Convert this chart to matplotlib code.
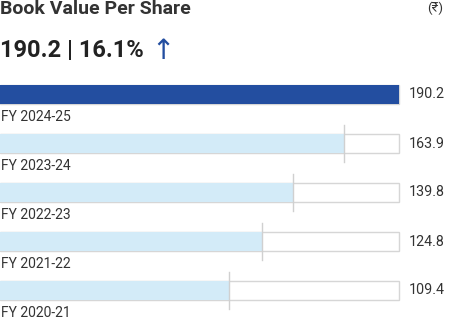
import matplotlib.pyplot as plt

# data
years = ["FY 2024-25", "FY 2023-24", "FY 2022-23", "FY 2021-22", "FY 2020-21"]
values = [190.2, 163.9, 139.8, 124.8, 109.4]
title = "Book Value Per Share"
headline = "190.2 | 16.1%"

W, H = 463, 335
fig = plt.figure(figsize=(W / 100, H / 100), dpi=100)
ax = fig.add_axes([0, 0, 1, 1])
ax.axis("off")

vmax = max(values)
full_px = 399  # pixel width of the full bar
ax.set_xlim(0, vmax * W / full_px)
# 49 px between bars, first bar centred at 94.5 px from top
ax.set_ylim((H - 94.5) / 49, -94.5 / 49)

fonts = ["Roboto", "DejaVu Sans"]
pos = list(range(len(years)))
bh = 19 / 49

# track (outlined full length)
ax.barh(pos, [vmax] * len(pos), height=bh, left=0, color="white",
        edgecolor="#d6d6d6", linewidth=1, zorder=1)
colors = ["#234ea0"] + ["#d3ebf8"] * (len(values) - 1)
ax.barh(pos, values, height=bh, color=colors, edgecolor="none", zorder=2)

for i, (y, v) in enumerate(zip(years, values)):
    if i > 0:
        ax.plot([v, v], [i - 0.37, i + 0.37], color="#d0d0d0", lw=1, zorder=3)
    ax.text(0.3, i + 0.45, y, ha="left", va="center", fontsize=10,
            color="#333333", family=fonts)
    ax.text(vmax * 409 / full_px, i, f"{v:.1f}", ha="left", va="center",
            fontsize=10.3, color="#333333", family=fonts)

# header texts in pixel coords
fig.text(0, 1 - 9 / H, title, ha="left", va="center", fontsize=14,
         fontweight="bold", color="#333333", family=fonts)
fig.text(427 / W, 1 - 8 / H, "(₹)", ha="left", va="center", fontsize=9.5,
         color="#333333", family=fonts)
fig.text(0, 1 - 50 / H, headline, ha="left", va="center", fontsize=17,
         fontweight="bold", color="#222222", family=fonts)
fig.text(151 / W, 1 - 51 / H, "↑", ha="left", va="center", fontsize=20,
         color="#234ea0", family=["DejaVu Sans"])

fig.savefig("out.png", dpi=100)
